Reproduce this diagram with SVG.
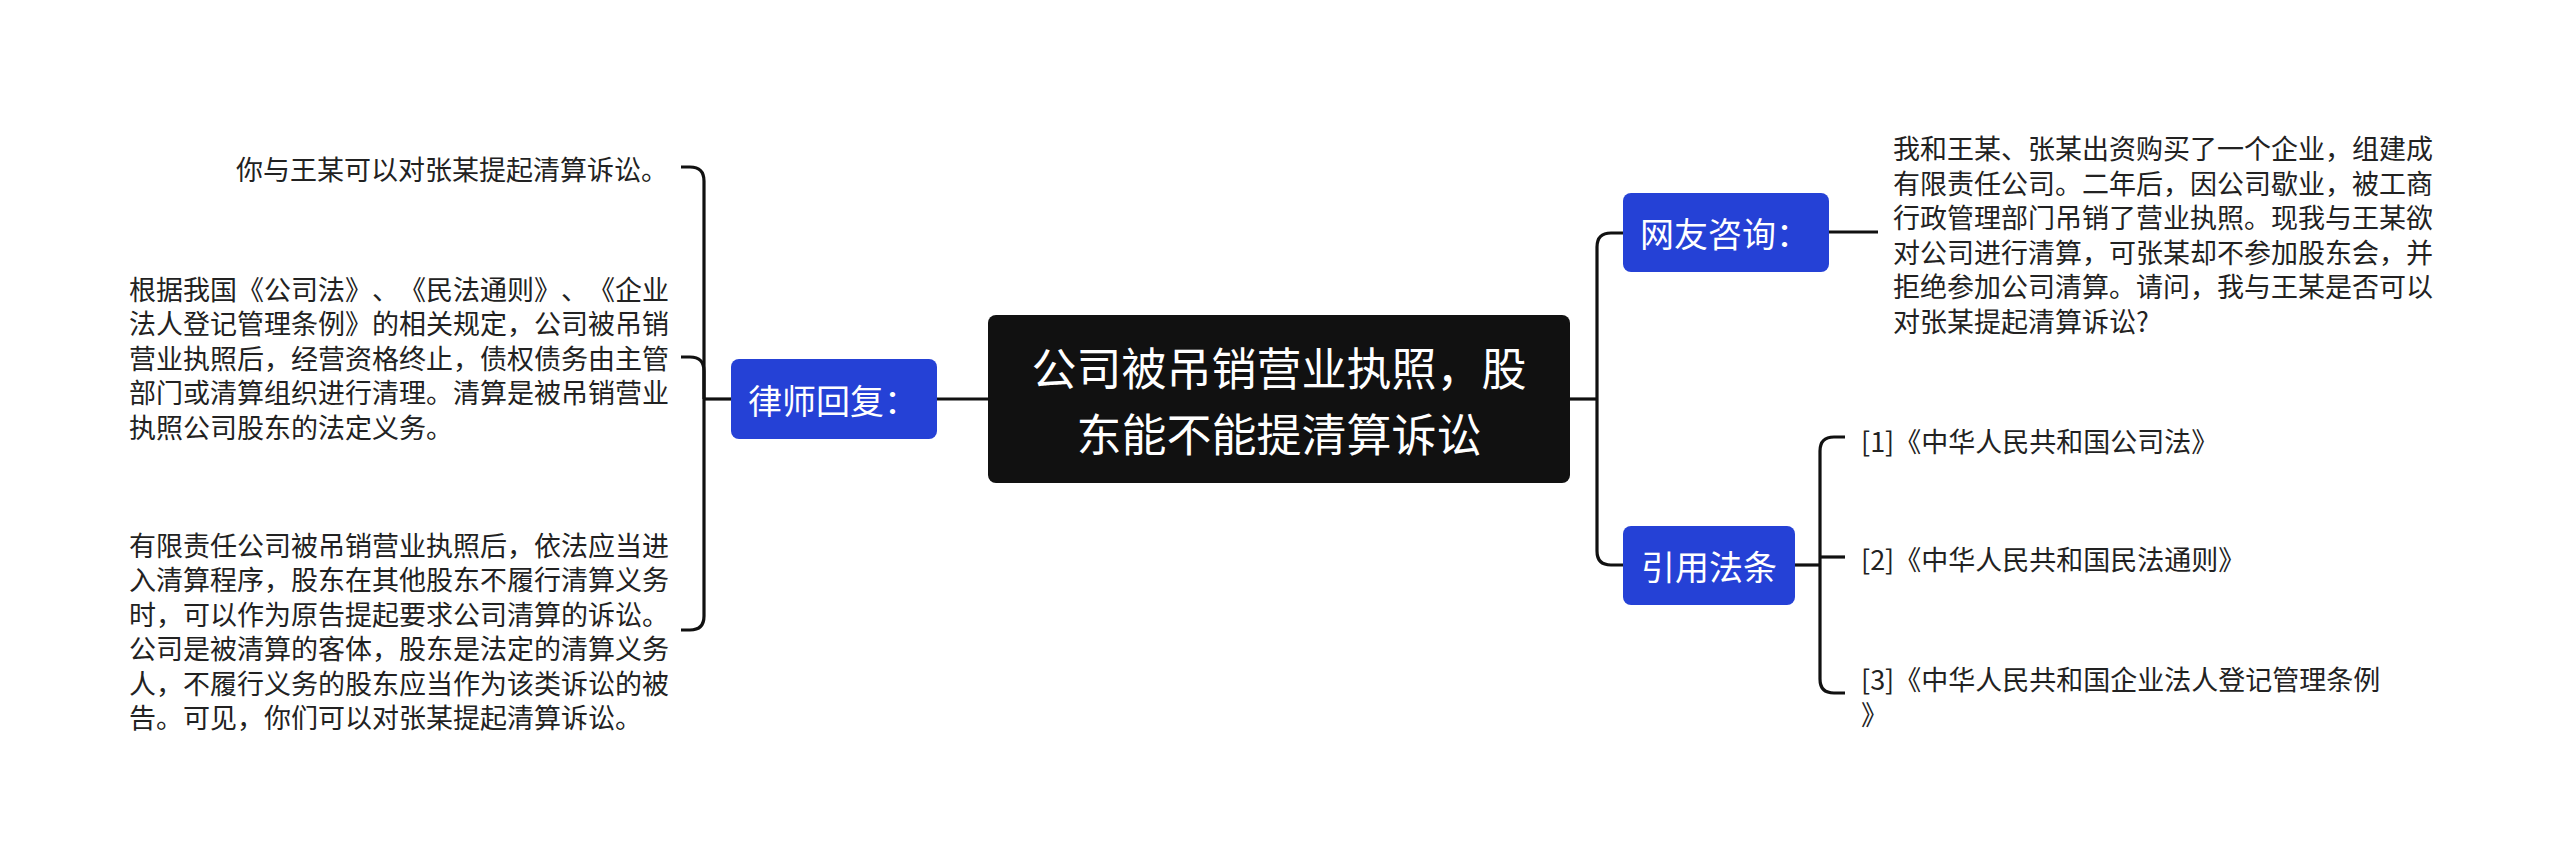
<svg xmlns="http://www.w3.org/2000/svg" width="2560" height="863" viewBox="0 0 2560 863">
<style>
.bg{fill:#ffffff}
.ln{fill:none;stroke:#111111;stroke-width:3.2}
.root{fill:#111111}
.blue{fill:#2541d6}
.t{font-family:"Noto Sans CJK SC","Noto Sans",sans-serif;dominant-baseline:central;text-spacing-trim:space-all}
.title{font-size:45px;fill:#ffffff;text-anchor:middle}
.lbl{font-size:34px;fill:#ffffff}
.body{font-size:27px;fill:#222222}
</style>
<rect class="bg" x="0" y="0" width="2560" height="863"/>
<g id="connectors">
<path class="ln" d="M988,399 H937"/>
<path class="ln" d="M731,399 H704"/>
<path class="ln" d="M704,399 V181 Q704,167 690,167 H681"/>
<path class="ln" d="M704,399 V371 Q704,357 690,357 H681"/>
<path class="ln" d="M704,399 V616 Q704,630 690,630 H681"/>
<path class="ln" d="M1570,399 H1597"/>
<path class="ln" d="M1597,399 V247 Q1597,233 1611,233 H1623"/>
<path class="ln" d="M1597,399 V551 Q1597,565 1611,565 H1623"/>
<path class="ln" d="M1829,232 H1878"/>
<path class="ln" d="M1795,565 H1820"/>
<path class="ln" d="M1820,565 V451 Q1820,437 1834,437 H1845"/>
<path class="ln" d="M1820,557 H1845"/>
<path class="ln" d="M1820,565 V679 Q1820,693 1834,693 H1845"/>
</g>
<g id="root">
<rect class="root" x="988" y="315" width="582" height="168" rx="8"/>
<text class="t title" x="1279" y="366">公司被吊销营业执照，股</text>
<text class="t title" x="1279" y="432">东能不能提清算诉讼</text>
</g>
<g id="lawyer">
<rect class="blue" x="731" y="359" width="206" height="80" rx="8"/>
<text class="t lbl" x="748" y="399">律师回复：</text>
</g>
<g id="lawyer-1">
<text class="t body" x="668" y="168" text-anchor="end">你与王某可以对张某提起清算诉讼。</text>
</g>
<g id="lawyer-2">
<text class="t body" x="129" y="288" textLength="540" lengthAdjust="spacing">根据我国《公司法》、《民法通则》、《企业</text>
<text class="t body" x="129" y="322.5">法人登记管理条例》的相关规定，公司被吊销</text>
<text class="t body" x="129" y="357">营业执照后，经营资格终止，债权债务由主管</text>
<text class="t body" x="129" y="391.5">部门或清算组织进行清理。清算是被吊销营业</text>
<text class="t body" x="129" y="426">执照公司股东的法定义务。</text>
</g>
<g id="lawyer-3">
<text class="t body" x="129" y="544">有限责任公司被吊销营业执照后，依法应当进</text>
<text class="t body" x="129" y="578.5">入清算程序，股东在其他股东不履行清算义务</text>
<text class="t body" x="129" y="613">时，可以作为原告提起要求公司清算的诉讼。</text>
<text class="t body" x="129" y="647.5">公司是被清算的客体，股东是法定的清算义务</text>
<text class="t body" x="129" y="682">人，不履行义务的股东应当作为该类诉讼的被</text>
<text class="t body" x="129" y="716.5">告。可见，你们可以对张某提起清算诉讼。</text>
</g>
<g id="question">
<rect class="blue" x="1623" y="193" width="206" height="79" rx="8"/>
<text class="t lbl" x="1640" y="232">网友咨询：</text>
</g>
<g id="question-1">
<text class="t body" x="1893" y="147.5">我和王某、张某出资购买了一个企业，组建成</text>
<text class="t body" x="1893" y="182">有限责任公司。二年后，因公司歇业，被工商</text>
<text class="t body" x="1893" y="216.5">行政管理部门吊销了营业执照。现我与王某欲</text>
<text class="t body" x="1893" y="251">对公司进行清算，可张某却不参加股东会，并</text>
<text class="t body" x="1893" y="285.5">拒绝参加公司清算。请问，我与王某是否可以</text>
<text class="t body" x="1893" y="320">对张某提起清算诉讼?</text>
</g>
<g id="laws">
<rect class="blue" x="1623" y="526" width="172" height="79" rx="8"/>
<text class="t lbl" x="1709" y="565" text-anchor="middle">引用法条</text>
</g>
<g id="law-1">
<text class="t body" x="1861" y="440">[1]《中华人民共和国公司法》</text>
</g>
<g id="law-2">
<text class="t body" x="1861" y="558">[2]《中华人民共和国民法通则》</text>
</g>
<g id="law-3">
<text class="t body" x="1861" y="678">[3]《中华人民共和国企业法人登记管理条例</text>
<text class="t body" x="1861" y="713">》</text>
</g>
</svg>
